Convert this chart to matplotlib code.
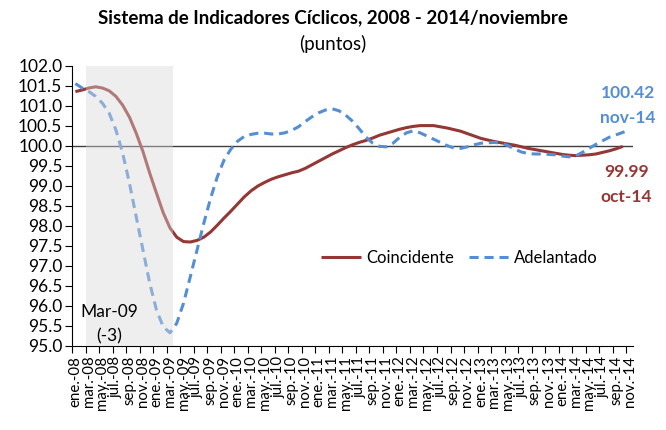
import matplotlib
matplotlib.use("Agg")
import matplotlib.pyplot as plt
import numpy as np

plt.rcParams['font.family'] = ['Lato', 'DejaVu Sans']

# ---- data ----
month_abbr = ["ene.", "feb.", "mar.", "abr.", "may.", "jun.",
              "jul.", "ago.", "sep.", "oct.", "nov.", "dic."]
months = [f"{month_abbr[m]}-{y:02d}" for y in range(8, 15) for m in range(12)][:83]

coincidente = [
    101.36, 101.40, 101.45, 101.48, 101.45, 101.38, 101.24, 101.02, 100.72, 100.32,
    99.86, 99.32, 98.82, 98.33, 97.95, 97.72, 97.61, 97.60, 97.64, 97.72,
    97.85, 98.02, 98.20, 98.37, 98.55, 98.73, 98.88, 99.00, 99.09, 99.17,
    99.23, 99.28, 99.33, 99.37, 99.44, 99.53, 99.62, 99.71, 99.80, 99.88,
    99.96, 100.03, 100.09, 100.14, 100.20, 100.27, 100.32, 100.37, 100.42, 100.46,
    100.49, 100.51, 100.51, 100.51, 100.48, 100.45, 100.41, 100.37, 100.31, 100.25,
    100.19, 100.15, 100.11, 100.08, 100.05, 100.02, 99.98, 99.94, 99.91, 99.88,
    99.85, 99.82, 99.79, 99.77, 99.76, 99.77, 99.78, 99.80, 99.84, 99.88,
    99.93, 99.99,
]

adelantado = [
    101.56, 101.45, 101.36, 101.24, 101.07, 100.82, 100.40, 99.82, 99.07, 98.23,
    97.40, 96.57, 95.90, 95.48, 95.33, 95.57, 96.07, 96.73, 97.40, 98.07,
    98.69, 99.23, 99.65, 99.92, 100.12, 100.24, 100.29, 100.32, 100.32, 100.30,
    100.30, 100.33, 100.39, 100.48, 100.61, 100.73, 100.83, 100.90, 100.93, 100.88,
    100.77, 100.62, 100.43, 100.22, 100.07, 99.99, 99.98, 100.07, 100.22, 100.33,
    100.38, 100.33, 100.25, 100.17, 100.09, 100.01, 99.95, 99.94, 99.98, 100.03,
    100.07, 100.08, 100.09, 100.07, 100.01, 99.92, 99.85, 99.81, 99.80, 99.80,
    99.79, 99.78, 99.75, 99.73, 99.75, 99.84, 99.94, 100.04, 100.13, 100.22,
    100.28, 100.34, 100.42,
]

recession_start = "mar.-08"
recession_end = "mar.-09"
y_ticks = [95.0 + 0.5 * k for k in range(15)]

RED = "#953735"
BLUE = "#558ED5"

fig = plt.figure(figsize=(6.66, 4.30), dpi=100)
ax = fig.add_axes([72 / 666, 1 - 346 / 430, (633 - 72) / 666, (346 - 66) / 430])

x_c = np.arange(len(coincidente))
x_a = np.arange(len(adelantado))

ax.plot(x_c, coincidente, color=RED, lw=2.2, label="Coincidente", zorder=3,
        solid_capstyle='butt')
ax.plot(x_a, adelantado, color=BLUE, lw=2.2, ls=(0, (3.0, 1.9)), label="Adelantado",
        zorder=3)
ax.axhline(100, color="#404040", lw=1.0, zorder=2)

i0 = months.index(recession_start)
i1 = months.index(recession_end)
ax.axvspan(i0 - 0.5, i1 + 0.5, ymin=0, ymax=1, facecolor="#D8D8D8", alpha=0.42,
           edgecolor='none', zorder=4)

ax.set_xlim(-0.5, len(months) - 0.5)
ax.set_ylim(95.0, 102.0)
ax.set_yticks(y_ticks)
ax.set_yticklabels([f"{v:.1f}" for v in y_ticks], fontsize=12.5)

label_pos = list(range(0, len(months), 2))
ax.set_xticks(label_pos)
ax.set_xticklabels([months[i] for i in label_pos], rotation=90, fontsize=10.8)
ax.tick_params(axis='x', which='major', length=0, pad=7)
ax.set_xticks([p - 0.5 for p in range(0, len(months) + 1, 2)], minor=True)
ax.tick_params(axis='x', which='minor', length=5, direction='out', width=0.8)
ax.tick_params(axis='y', length=5, width=0.8, direction='out', pad=2)

for s in ['top', 'right']:
    ax.spines[s].set_visible(False)
for s in ['left', 'bottom']:
    ax.spines[s].set_color('black')
    ax.spines[s].set_linewidth(0.8)

fig.text(0.5, 1 - 18 / 430, "Sistema de Indicadores Cíclicos, 2008 - 2014/noviembre",
         ha='center', va='center', fontsize=13.5, fontweight='bold')
fig.text(0.5, 1 - 44 / 430, "(puntos)", ha='center', va='center', fontsize=13.5)

# annotations
ax.text(i0 + 3, 95.85, "Mar-09", ha='center', va='center', fontsize=12.5, zorder=5)
ax.text(i0 + 3, 95.25, "(-3)", ha='center', va='center', fontsize=12.5, zorder=5)

last_a = len(adelantado) - 1
last_c = len(coincidente) - 1
ax.text(last_a - 0.3, 101.33, f"{adelantado[-1]:.2f}", color=BLUE, fontweight='bold',
        ha='center', va='center', fontsize=12.5, clip_on=False)
ax.text(last_a - 0.3, 100.70, months[last_a].replace('.', ''), color=BLUE,
        fontweight='bold', ha='center', va='center', fontsize=12.5, clip_on=False)
ax.text(last_c + 0.5, 99.35, f"{coincidente[-1]:.2f}", color=RED, fontweight='bold',
        ha='center', va='center', fontsize=12.5, clip_on=False)
ax.text(last_c + 0.5, 98.72, months[last_c].replace('.', ''), color=RED,
        fontweight='bold', ha='center', va='center', fontsize=12.5, clip_on=False)

leg = ax.legend(loc='center', bbox_to_anchor=(0.69, 0.315), ncol=2, frameon=False,
                fontsize=12, handlelength=2.4, columnspacing=0.9, handletextpad=0.3)

fig.savefig("out.png", dpi=100)
